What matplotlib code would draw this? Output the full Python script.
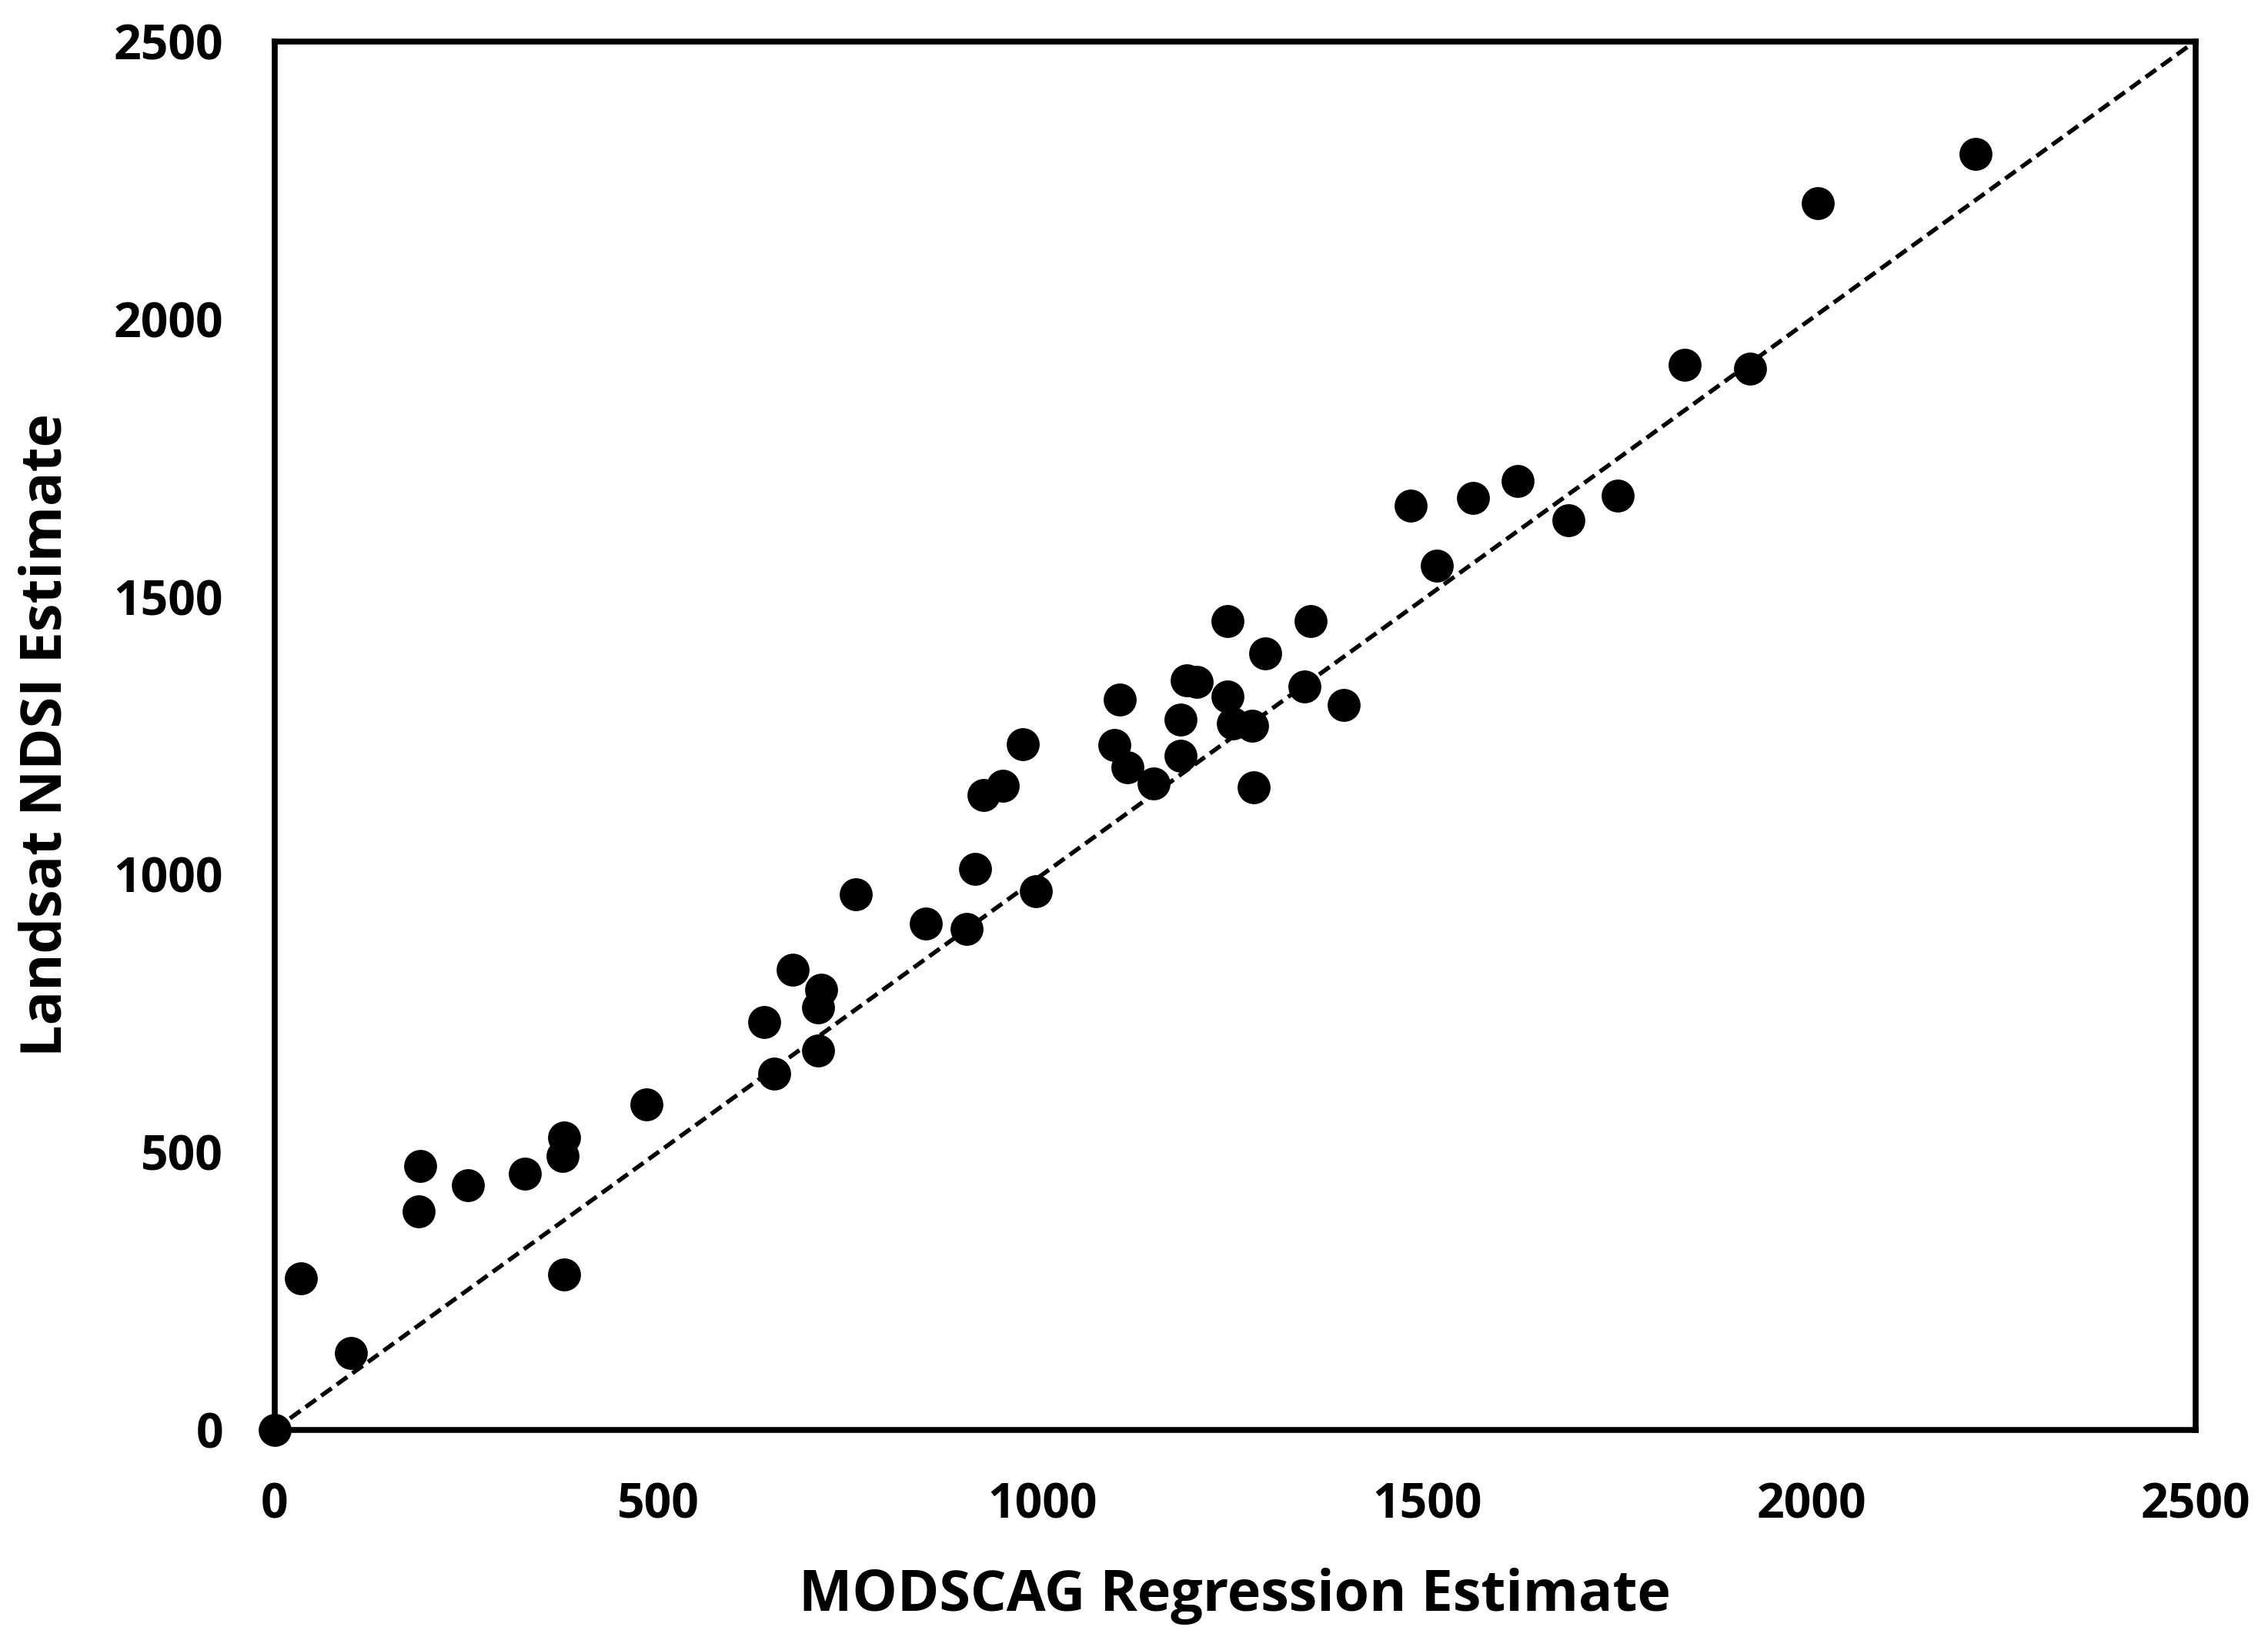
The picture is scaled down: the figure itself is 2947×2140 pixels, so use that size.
import matplotlib.pyplot as plt
import numpy as np

# MODSCAG regression estimate (x) vs Landsat NDSI estimate (y)
modscag = [
    0, 34, 100, 190, 188, 252, 326, 377, 375, 377,
    484, 637, 674, 650, 712, 708, 708, 757, 848, 901,
    912, 923, 948, 974, 991, 1093, 1100, 1110, 1144, 1179,
    1179, 1187, 1200, 1240, 1240, 1247, 1272, 1274, 1289, 1341,
    1349, 1392, 1479, 1513, 1560, 1618, 1684, 1748, 1835, 1920,
    2009, 2214,
]
landsat = [
    0, 273, 138, 474, 393, 440, 461, 526, 492, 279,
    586, 734, 828, 641, 792, 760, 682, 964, 911, 901,
    1010, 1143, 1159, 1234, 969, 1232, 1315, 1193, 1164, 1279,
    1213, 1349, 1346, 1456, 1320, 1271, 1268, 1156, 1398, 1338,
    1456, 1305, 1664, 1555, 1677, 1708, 1638, 1682, 1917, 1911,
    2208, 2297,
]
ticks = [0, 500, 1000, 1500, 2000, 2500]

plt.rcParams["font.family"] = ["Open Sans", "DejaVu Sans"]
plt.rcParams["font.weight"] = "bold"

fig = plt.figure(figsize=(29.47, 21.40), dpi=100)
ax = fig.add_axes([0.121, 0.132, 0.847, 0.843])

# 1:1 line
ax.plot([0, 2500], [0, 2500], color="black", linestyle=(0, (3, 1.5)), linewidth=4, zorder=2)
ax.scatter(modscag, landsat, s=950, color="black", zorder=3, clip_on=False, linewidths=0)

ax.set_xlim(0, 2500)
ax.set_ylim(0, 2500)
ax.set_xticks(ticks)
ax.set_yticks(ticks)
ax.tick_params(length=0, labelsize=45, pad=48)
for lbl in ax.get_xticklabels() + ax.get_yticklabels():
    lbl.set_fontweight("bold")

for sp in ax.spines.values():
    sp.set_linewidth(5.5)

ax.set_xlabel("MODSCAG Regression Estimate", fontsize=53, fontweight="bold", labelpad=36)
ax.set_ylabel("Landsat NDSI Estimate", fontsize=53, fontweight="bold", labelpad=36)

fig.savefig("out.png", dpi=100)
